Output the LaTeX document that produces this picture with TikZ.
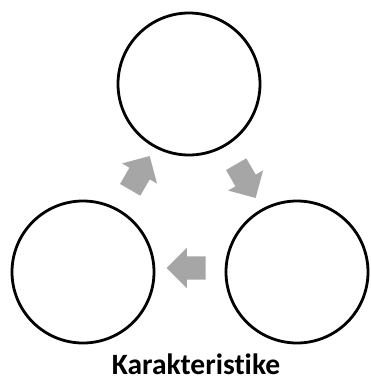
\documentclass[tikz,border=0pt]{standalone}
\usepackage{fontspec}
\setmainfont{Carlito}[Ligatures=NoCommon]
\usetikzlibrary{shapes.arrows, positioning}
\definecolor{pfeil}{HTML}{A6A6A6}

\begin{document}
\begin{tikzpicture}[x=1pt, y=-1pt,
        kreis/.style={draw, line width=2.8pt, circle, minimum size=142pt, inner sep=0pt},
        pfeil/.style={single arrow, fill=pfeil, draw=none, inner xsep=0pt, inner ysep=11.5pt,
                      single arrow head extend=8.5pt, single arrow tip angle=90,
                      minimum height=39pt},
        titel/.style={font=\bfseries\fontsize{29.5}{34}\selectfont, inner sep=0pt,
                      text depth=0pt, anchor=base}
      ]
      \useasboundingbox (0,0) rectangle (371,383);
      % ── Kreise ──
      \node[kreis] (oben)   at (189,84)  {};
      \node[kreis] (links)  at (83,272)  {};
      \node[kreis] (rechts) at (297,272) {};

      % ── Pfeile ──
      \node[pfeil, rotate=60]  (p1) at (137,178) {};
      \node[pfeil, rotate=-60] (p2) at (243,176) {};
      \node[pfeil, rotate=180] (p3) at (192,268) {};

      % ── Beschriftung ──
      \node[titel] (txt) at (196,374) {Karakteristike};
    \end{tikzpicture}
\end{document}
